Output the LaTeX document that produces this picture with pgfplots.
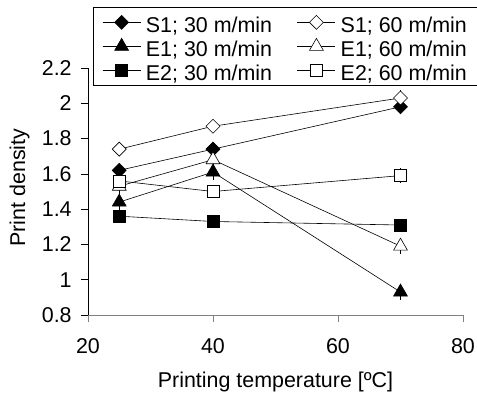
\documentclass[border=0pt]{standalone}
\usepackage{fontspec}
\setmainfont{Liberation Sans}
\usepackage{pgfplots}
\pgfplotsset{compat=1.18}
\newcommand{\bigf}{\fontsize{21.5}{24}\selectfont}
\begin{document}
\bigf
\begin{tikzpicture}
\path[use as bounding box] (-88bp,-81bp) rectangle (389bp,315bp);
\begin{axis}[
  scale only axis, width=375bp, height=247bp,
  xmin=20, xmax=80, ymin=0.8, ymax=2.2,
  xtick={20,40,60,80}, ytick={0.8,1,1.2,1.4,1.6,1.8,2,2.2},
  axis x line*=bottom, axis y line*=left,
  x axis line style={draw=gray, line width=0.7pt},
  y axis line style={draw=black, line width=0.7pt},
  tick align=outside, major tick length=7bp,
  xtick style={gray, line width=0.7pt},
  ytick style={black, line width=0.7pt},
  /pgf/number format/assume math mode=true,
  tick label style={font=\bigf},
  xticklabel style={yshift=-9bp},
  yticklabel style={xshift=-2bp},
  xlabel={Printing temperature [ºC]},
  ylabel={Print density},
  label style={font=\bigf},
  xlabel style={at={(axis description cs:0.5,-0.2955)}, anchor=base},
  ylabel style={at={(axis description cs:-0.168,0.516)}, anchor=base},
  legend columns=2,
  legend style={at={(rel axis cs:0.0133,1.247)}, anchor=north west, draw=black, line width=0.7pt,
    font=\bigf, inner xsep=9bp, inner ysep=1bp, row sep=-4bp,
    nodes={text height=23bp, text depth=3bp, inner ysep=1bp, inner xsep=5bp},
    /tikz/every even column/.append style={column sep=20bp}},
  legend image code/.code={\draw[mark repeat=2,mark phase=2] plot coordinates {(0bp,0bp)(19bp,0bp)(38bp,0bp)};},
  legend cell align=left,
  error bars/error bar style={black, line width=0.5pt},
]
\addplot[black, line width=0.6pt, mark=diamond*, mark size=7bp, mark options={fill=black, solid, xscale=1.333},
  error bars/.cd, y dir=both, y explicit, error mark options={mark size=4bp}]
  table[y error=e] {
x y e
25 1.62 0.01
40 1.74 0.01
70 1.98 0.02
};
\addlegendentry{S1; 30 m/min}
\addplot[black, line width=0.6pt, mark=diamond*, mark size=7bp, mark options={fill=white, solid, xscale=1.333},
  error bars/.cd, y dir=both, y explicit, error mark options={mark size=4bp}]
  table[y error=e] {
x y e
25 1.74 0.01
40 1.87 0.01
70 2.03 0.02
};
\addlegendentry{S1; 60 m/min}
\addplot[black, line width=0.6pt, mark=triangle*, mark size=8bp, mark options={fill=black, solid},
  error bars/.cd, y dir=both, y explicit, error mark options={mark size=4bp}]
  table[y error=e] {
x y e
25 1.44 0.02
40 1.61 0.02
70 0.93 0.02
};
\addlegendentry{E1; 30 m/min}
\addplot[black, line width=0.6pt, mark=triangle*, mark size=8bp, mark options={fill=white, solid},
  error bars/.cd, y dir=both, y explicit, error mark options={mark size=4bp}]
  table[y error=e] {
x y e
25 1.53 0.02
40 1.68 0.02
70 1.19 0.02
};
\addlegendentry{E1; 60 m/min}
\addplot[black, line width=0.6pt, mark=square*, mark size=6bp, mark options={fill=black, solid},
  error bars/.cd, y dir=both, y explicit, error mark options={mark size=4bp}]
  table[y error=e] {
x y e
25 1.36 0.01
40 1.33 0.01
70 1.31 0.01
};
\addlegendentry{E2; 30 m/min}
\addplot[black, line width=0.6pt, mark=square*, mark size=6bp, mark options={fill=white, solid},
  error bars/.cd, y dir=both, y explicit, error mark options={mark size=4bp}]
  table[y error=e] {
x y e
25 1.56 0.02
40 1.50 0.01
70 1.59 0.02
};
\addlegendentry{E2; 60 m/min}
\end{axis}
\end{tikzpicture}
\end{document}
